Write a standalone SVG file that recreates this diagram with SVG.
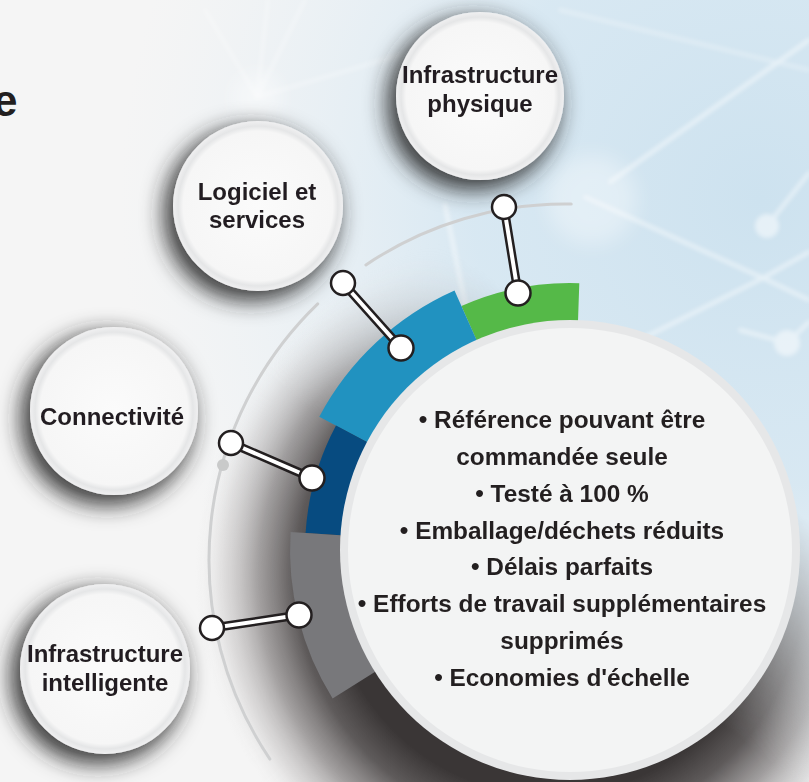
<svg xmlns="http://www.w3.org/2000/svg" width="809" height="782" viewBox="0 0 809 782">
<defs>
<style>
.lbl{font-family:"Liberation Sans",Arial,sans-serif;font-weight:bold;font-size:24px;fill:#231f20;text-anchor:middle}
.bul{font-family:"Liberation Sans",Arial,sans-serif;font-weight:bold;font-size:24.4px;fill:#231f20;text-anchor:middle}
.cline{stroke:#231f20;stroke-width:9;stroke-linecap:round}
.ccore{stroke:#ffffff;stroke-width:4;stroke-linecap:round}
.cdot{fill:#ffffff;stroke:#231f20;stroke-width:2.5}
.net{stroke:#ffffff;stroke-width:4;fill:none;stroke-linecap:round}
.nodec{fill:url(#nodeFill)}
</style>
<radialGradient id="bgBlue" gradientUnits="userSpaceOnUse" cx="760" cy="200" r="640">
<stop offset="0" stop-color="#cde2ef" stop-opacity="1"/>
<stop offset="0.45" stop-color="#d3e6f2" stop-opacity="0.85"/>
<stop offset="1" stop-color="#e4eef5" stop-opacity="0"/>
</radialGradient>
<radialGradient id="nodeFill" cx="0.5" cy="0.5" r="0.5">
<stop offset="0" stop-color="#fbfbfb"/>
<stop offset="0.88" stop-color="#f6f6f6"/>
<stop offset="0.94" stop-color="#e5e6e7"/>
<stop offset="1" stop-color="#f0f0f1"/>
</radialGradient>
<radialGradient id="shadowGrad" gradientUnits="userSpaceOnUse" cx="550" cy="575" r="355">
<stop offset="0.62" stop-color="#3a3636" stop-opacity="1"/>
<stop offset="0.72" stop-color="#565252" stop-opacity="0.95"/>
<stop offset="0.82" stop-color="#858181" stop-opacity="0.75"/>
<stop offset="0.92" stop-color="#bdbaba" stop-opacity="0.4"/>
<stop offset="1" stop-color="#efefef" stop-opacity="0"/>
</radialGradient>
<linearGradient id="maskGrad" gradientUnits="userSpaceOnUse" x1="520" y1="300" x2="390" y2="470">
<stop offset="0" stop-color="#000"/>
<stop offset="1" stop-color="#fff"/>
</linearGradient>
<mask id="shadowMask" maskUnits="userSpaceOnUse" x="0" y="0" width="809" height="782">
<rect x="0" y="0" width="809" height="782" fill="url(#maskGrad)"/>
</mask>
<filter id="nodeShadow" x="-40%" y="-40%" width="180%" height="180%">
<feMorphology in="SourceAlpha" operator="dilate" radius="2" result="d"/>
<feGaussianBlur in="d" stdDeviation="11"/>
<feOffset dx="-7" dy="8" result="b"/>
<feFlood flood-color="#262626" flood-opacity="0.9"/>
<feComposite in2="b" operator="in"/>
<feMerge><feMergeNode/><feMergeNode in="SourceGraphic"/></feMerge>
</filter>
<filter id="soft" x="-20%" y="-20%" width="140%" height="140%">
<feGaussianBlur stdDeviation="2"/>
</filter>
<filter id="glow" x="-50%" y="-50%" width="200%" height="200%">
<feGaussianBlur stdDeviation="10"/>
</filter>
</defs>

<!-- background -->
<rect x="0" y="0" width="809" height="782" fill="#f5f5f5"/>
<rect x="0" y="0" width="809" height="782" fill="url(#bgBlue)"/>
<g id="network" opacity="0.5" filter="url(#soft)">
<path class="net" d="M610,182 L809,40"/>
<path class="net" d="M585,197 L763,278 L809,300"/>
<path class="net" d="M763,278 L809,252"/>
<path class="net" d="M763,278 L560,380"/>
<path class="net" d="M767,226 L809,173"/>
<path class="net" d="M740,330 L787,343 L809,322"/>
<path class="net" d="M257,97 L205,10" opacity="0.6"/>
<path class="net" d="M257,97 L268,0" opacity="0.6"/>
<path class="net" d="M257,97 L305,0" opacity="0.6"/>
<path class="net" d="M257,97 L400,55" opacity="0.6"/>
<path class="net" d="M445,205 L468,318"/>
<path class="net" d="M560,10 L809,70" opacity="0.6"/>
<circle cx="767" cy="226" r="12" fill="#ffffff"/>
<circle cx="787" cy="343" r="13" fill="#ffffff"/>
</g>
<circle cx="592" cy="200" r="45" fill="#ffffff" opacity="0.35" filter="url(#glow)"/>
<circle cx="257" cy="97" r="25" fill="#ffffff" opacity="0.4" filter="url(#glow)"/>

<!-- title fragment (cut by the edge, as in the source) -->
<text x="-7" y="116" style="font-family:'Liberation Sans',Arial,sans-serif;font-weight:bold;font-size:44px;fill:#231f20">e</text>

<!-- shadow behind the hub -->
<circle cx="550" cy="575" r="355" fill="url(#shadowGrad)" mask="url(#shadowMask)"/>

<!-- thin outer arc -->
<g id="outer-arc" fill="none" stroke="#cfd0d1" stroke-width="3" stroke-linecap="round">
<path d="M571.2,204.1 A356,356 0 0 0 365.9,264.9"/>
<path d="M317.7,303.9 A356,356 0 0 0 269.9,759.1"/>
</g>
<circle cx="223" cy="465" r="6" fill="#c9caca"/>

<!-- coloured bands -->
<g id="bands">
<path d="M579.3,283.2 A267,267 0 0 0 461.4,306.1 L478.1,343.5 A226,226 0 0 1 577.9,324.1 Z" fill="#55b948"/>
<path d="M454.5,290.6 A284,284 0 0 0 319.3,416.7 L370.5,443.9 A226,226 0 0 1 478.1,343.5 Z" fill="#2192c0"/>
<path d="M336.0,425.6 A265,265 0 0 0 305.6,532.9 L344.5,535.4 A226,226 0 0 1 370.5,443.9 Z" fill="#074b80"/>
<path d="M290.6,531.9 A280,280 0 0 0 332.6,698.4 L378.4,669.8 A226,226 0 0 1 344.5,535.4 Z" fill="#78787b"/>
</g>

<!-- central hub -->
<g id="hub">
<circle cx="570" cy="550" r="230" fill="#e6e7e8"/>
<circle cx="570" cy="550" r="222" fill="#f3f4f4"/>
<text class="bul" x="562" y="428">• Référence pouvant être</text>
<text class="bul" x="562" y="465">commandée seule</text>
<text class="bul" x="562" y="502">• Testé à 100 %</text>
<text class="bul" x="562" y="539">• Emballage/déchets réduits</text>
<text class="bul" x="562" y="575">• Délais parfaits</text>
<text class="bul" x="562" y="612">• Efforts de travail supplémentaires</text>
<text class="bul" x="562" y="649">supprimés</text>
<text class="bul" x="562" y="686">• Economies d'échelle</text>
</g>

<!-- nodes -->
<g id="node-infra-physique" filter="url(#nodeShadow)">
<circle class="nodec" cx="480" cy="96" r="84"/>
<text class="lbl" x="480" y="83">Infrastructure</text>
<text class="lbl" x="480" y="112">physique</text>
</g>
<g id="node-logiciel" filter="url(#nodeShadow)">
<circle class="nodec" cx="258" cy="206" r="85"/>
<text class="lbl" x="257" y="200">Logiciel et</text>
<text class="lbl" x="257" y="228">services</text>
</g>
<g id="node-connectivite" filter="url(#nodeShadow)">
<circle class="nodec" cx="114" cy="411" r="84"/>
<text class="lbl" x="112" y="425">Connectivité</text>
</g>
<g id="node-infra-intelligente" filter="url(#nodeShadow)">
<circle class="nodec" cx="105" cy="669" r="85"/>
<text class="lbl" x="105" y="662">Infrastructure</text>
<text class="lbl" x="105" y="691">intelligente</text>
</g>

<!-- connectors -->
<g id="connectors">
<line class="cline" x1="504" y1="207" x2="518" y2="293"/>
<line class="ccore" x1="504" y1="207" x2="518" y2="293"/>
<circle class="cdot" cx="504" cy="207" r="12"/>
<circle class="cdot" cx="518" cy="293" r="12.5"/>

<line class="cline" x1="343" y1="283" x2="401" y2="348"/>
<line class="ccore" x1="343" y1="283" x2="401" y2="348"/>
<circle class="cdot" cx="343" cy="283" r="12"/>
<circle class="cdot" cx="401" cy="348" r="12.5"/>

<line class="cline" x1="231" y1="443" x2="312" y2="478"/>
<line class="ccore" x1="231" y1="443" x2="312" y2="478"/>
<circle class="cdot" cx="231" cy="443" r="12"/>
<circle class="cdot" cx="312" cy="478" r="12.5"/>

<line class="cline" x1="212" y1="628" x2="299" y2="615"/>
<line class="ccore" x1="212" y1="628" x2="299" y2="615"/>
<circle class="cdot" cx="212" cy="628" r="12"/>
<circle class="cdot" cx="299" cy="615" r="12.5"/>
</g>
</svg>
